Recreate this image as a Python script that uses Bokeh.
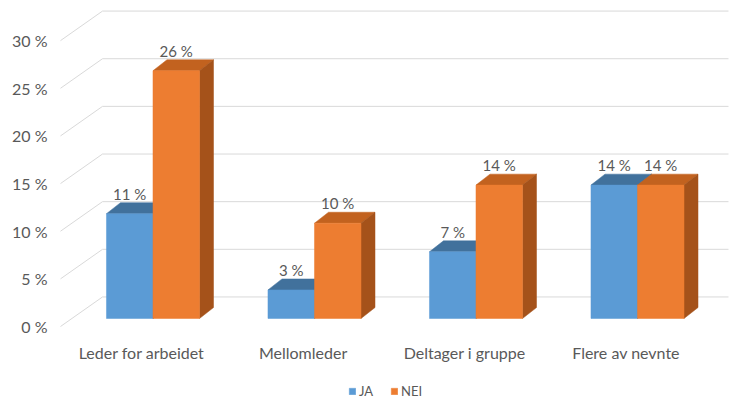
from bokeh.plotting import figure
from bokeh.models import Range1d, FixedTicker, Legend, LegendItem, ColumnDataSource
from bokeh.core.properties import value
from bokeh.embed import file_html
from bokeh.resources import INLINE

# --- data -------------------------------------------------------------
categories = ["Leder for arbeidet", "Mellomleder", "Deltager i gruppe", "Flere av nevnte"]
ja_values = [11, 3, 7, 14]
nei_values = [26, 10, 14, 14]
series_names = ["JA", "NEI"]
y_ticks = [0, 5, 10, 15, 20, 25, 30]
y_tick_labels = ["0 %", "5 %", "10 %", "15 %", "20 %", "25 %", "30 %"]

# --- pseudo-3D geometry (in data units) --------------------------------
WALL_DX, WALL_DY = 0.26, 3.1          # depth of the back wall
WALL_X0, WALL_X1 = -0.502, 3.634      # extent of the gridlines
BAR_OFF_DX, BAR_OFF_DY = 0.0706, 0.84 # bars stand slightly behind the front plane
BAR_DX, BAR_DY = 0.0867, 1.15         # depth of each bar
BAR_W = 0.288

FONT = "Lato"
TEXT_COLOR = "#595959"
GRID_COLOR = "#d9d9d9"

p = figure(width=738, height=403, output_backend="svg", toolbar_location=None,
           x_range=Range1d(-0.564, 3.696), y_range=Range1d(-8.08, 34.21),
           x_axis_location=None, min_border_left=50, min_border_right=0,
           min_border_top=0, min_border_bottom=0, outline_line_color=None,
           background_fill_color="white", border_fill_color="white")
p.xgrid.visible = False
p.ygrid.visible = False

yax = p.yaxis[0]
yax.ticker = FixedTicker(ticks=y_ticks)
yax.major_label_overrides = {t: lab for t, lab in zip(y_ticks, y_tick_labels)}
yax.axis_line_color = None
yax.major_tick_line_color = None
yax.minor_tick_line_color = None
yax.major_tick_in = 0
yax.major_tick_out = 0
yax.major_label_standoff = 3
yax.major_label_text_font = FONT
yax.major_label_text_font_size = "16px"
yax.major_label_text_color = TEXT_COLOR

# side-wall diagonals and back-wall horizontals
p.segment(x0=[WALL_X0] * len(y_ticks), y0=y_ticks,
          x1=[WALL_X0 + WALL_DX] * len(y_ticks), y1=[t + WALL_DY for t in y_ticks],
          line_color=GRID_COLOR, line_width=1)
p.segment(x0=[WALL_X0 + WALL_DX] * len(y_ticks), y0=[t + WALL_DY for t in y_ticks],
          x1=[WALL_X1] * len(y_ticks), y1=[t + WALL_DY for t in y_ticks],
          line_color=GRID_COLOR, line_width=1)


def box_faces(values, shift):
    fronts, tops, sides = ([], []), ([], []), ([], [])
    for i, v in enumerate(values):
        x0 = i + shift + BAR_OFF_DX
        x1 = x0 + BAR_W
        y0 = BAR_OFF_DY
        y1 = v + BAR_OFF_DY
        fronts[0].append([x0, x1, x1, x0]); fronts[1].append([y0, y0, y1, y1])
        tops[0].append([x0, x1, x1 + BAR_DX, x0 + BAR_DX])
        tops[1].append([y1, y1, y1 + BAR_DY, y1 + BAR_DY])
        sides[0].append([x1, x1 + BAR_DX, x1 + BAR_DX, x1])
        sides[1].append([y0, y0 + BAR_DY, y1 + BAR_DY, y1])
    return fronts, tops, sides


series = [
    (ja_values, -BAR_W, "#5b9bd5", "#41719c", "#3a6a96"),
    (nei_values, 0.0, "#ed7d31", "#c2621f", "#a5521a"),
]
legend_items = []
for name, (vals, shift, c_front, c_top, c_side) in zip(series_names, series):
    fronts, tops, sides = box_faces(vals, shift)
    p.patches(xs=tops[0], ys=tops[1], fill_color=c_top, line_color=c_top, line_width=0.5)
    p.patches(xs=sides[0], ys=sides[1], fill_color=c_side, line_color=c_side, line_width=0.5)
    r = p.patches(xs=fronts[0], ys=fronts[1], fill_color=c_front, line_color=c_front, line_width=0.5)
    legend_items.append(LegendItem(label=name, renderers=[r]))

    # value labels above each bar
    src = ColumnDataSource(dict(
        x=[i + shift + BAR_OFF_DX + BAR_W / 2 for i in range(len(vals))],
        y=[v + BAR_OFF_DY + BAR_DY + 0.95 for v in vals],
        t=[f"{v} %" for v in vals]))
    p.text(x="x", y="y", text="t", source=src, text_align="center",
           text_baseline="alphabetic", text_font=value(FONT),
           text_font_size="15px", text_color=TEXT_COLOR)

# category labels under each group
cat_src = ColumnDataSource(dict(x=list(range(len(categories))),
                                y=[-2.73] * len(categories), t=categories))
p.text(x="x", y="y", text="t", source=cat_src, text_align="center",
       text_baseline="middle", text_font=value(FONT), text_font_size="16px",
       text_color=TEXT_COLOR)

legend = Legend(items=legend_items, orientation="horizontal", location=(298, 4),
                padding=0, margin=0, spacing=11, glyph_width=8, glyph_height=8,
                label_standoff=3, label_height=12, label_text_font=FONT,
                label_text_font_size="13px", label_text_color=TEXT_COLOR,
                border_line_color=None, background_fill_alpha=0)
p.add_layout(legend, "center")

open("out.html", "w").write(file_html(p, INLINE))
